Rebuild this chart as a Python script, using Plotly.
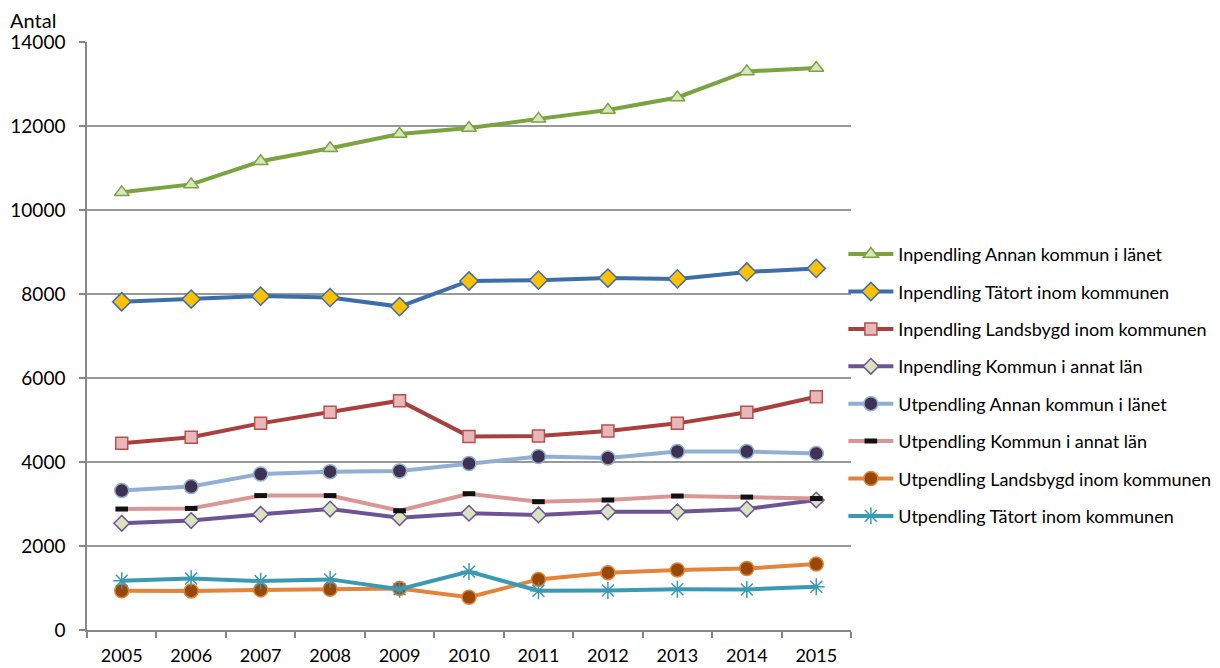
import plotly.graph_objects as go

years = ["2005", "2006", "2007", "2008", "2009", "2010", "2011", "2012", "2013", "2014", "2015"]

inp_annan_kommun_lanet = [10420, 10610, 11160, 11470, 11810, 11950, 12170, 12380, 12680, 13300, 13380]
inp_tatort_inom_kommunen = [7815, 7880, 7950, 7915, 7700, 8310, 8330, 8380, 8360, 8525, 8610]
inp_landsbygd_inom_kommunen = [4445, 4590, 4920, 5185, 5460, 4610, 4620, 4740, 4920, 5185, 5555]
inp_kommun_annat_lan = [2540, 2605, 2755, 2880, 2675, 2780, 2740, 2815, 2815, 2880, 3095]
utp_annan_kommun_lanet = [3320, 3415, 3715, 3770, 3785, 3965, 4130, 4095, 4250, 4250, 4205]
utp_kommun_annat_lan = [2880, 2895, 3200, 3200, 2840, 3245, 3055, 3095, 3190, 3165, 3130]
utp_landsbygd_inom_kommunen = [935, 930, 955, 970, 990, 780, 1205, 1365, 1430, 1465, 1570]
utp_tatort_inom_kommunen = [1175, 1225, 1165, 1205, 970, 1390, 935, 940, 970, 965, 1030]

series = [
    ("Inpendling Annan kommun i länet", inp_annan_kommun_lanet, "#7BA33F",
     dict(symbol="triangle-up", size=13, color="#D6E5BC", line=dict(color="#7BA33F", width=1.5))),
    ("Inpendling Tätort inom kommunen", inp_tatort_inom_kommunen, "#3E6EAA",
     dict(symbol="diamond", size=14, color="#FFC000", line=dict(color="#3E6EAA", width=1.5))),
    ("Inpendling Landsbygd inom kommunen", inp_landsbygd_inom_kommunen, "#A9403D",
     dict(symbol="square", size=12, color="#E6B9B8", line=dict(color="#B9504D", width=1.5))),
    ("Inpendling Kommun i annat län", inp_kommun_annat_lan, "#6E5395",
     dict(symbol="diamond", size=12, color="#D7E4BD", line=dict(color="#6E5395", width=1.5))),
    ("Utpendling Annan kommun i länet", utp_annan_kommun_lanet, "#91AED4",
     dict(symbol="circle", size=14, color="#3F3151", line=dict(color="#91AED4", width=1.5))),
    ("Utpendling Kommun i annat län", utp_kommun_annat_lan, "#D99694",
     dict(symbol="line-ew", size=9, color="#111111", line=dict(color="#111111", width=5))),
    ("Utpendling Landsbygd inom kommunen", utp_landsbygd_inom_kommunen, "#E3843A",
     dict(symbol="circle", size=14, color="#974706", line=dict(color="#E3843A", width=1.5))),
    ("Utpendling Tätort inom kommunen", utp_tatort_inom_kommunen, "#3A9AB4",
     dict(symbol="asterisk-open", size=14, color="#3A9AB4", line=dict(color="#3A9AB4", width=1.5))),
]

fig = go.Figure()
for i, (name, vals, col, mk) in enumerate(series):
    fig.add_trace(go.Scatter(
        x=years, y=vals, name=name, mode="lines+markers",
        line=dict(color=col, width=4), marker=mk,
        legendgroup=f"g{i}",
    ))

font_family = "Lato, 'Liberation Sans', sans-serif"

fig.update_layout(
    width=1212, height=660,
    margin=dict(l=79, r=369, t=34, b=38, autoexpand=False),
    paper_bgcolor="white", plot_bgcolor="white",
    font=dict(family=font_family, size=19, color="#000000"),
    showlegend=True,
    legend=dict(
        x=0.990, xanchor="left", y=0.416, yanchor="middle",
        font=dict(family=font_family, size=18, color="#000000"),
        tracegroupgap=11, itemwidth=45, bgcolor="rgba(0,0,0,0)",
    ),
    xaxis=dict(
        type="category", range=[-0.5, 10.5], automargin=False,
        showgrid=False, showline=True, linecolor="#888888", linewidth=1.5,
        ticks="outside", tickson="boundaries", ticklen=6, tickcolor="#888888", tickwidth=1.5,
        tickfont=dict(size=18), ticklabelstandoff=9,
    ),
    yaxis=dict(
        range=[0, 14000], dtick=2000, tickformat="d", automargin=False,
        showgrid=True, gridcolor="#999999", gridwidth=1.5,
        showline=True, linecolor="#888888", linewidth=1.5,
        ticks="outside", ticklen=6, tickcolor="#888888", tickwidth=1.5,
        tickfont=dict(size=19), ticklabelstandoff=10, zeroline=False,
    ),
    annotations=[dict(
        text="Antal", xref="paper", yref="paper", x=-0.104, y=1.0,
        xanchor="left", yanchor="bottom", showarrow=False,
        font=dict(family=font_family, size=20), yshift=8,
    )],
)

fig.write_html("out.html")
